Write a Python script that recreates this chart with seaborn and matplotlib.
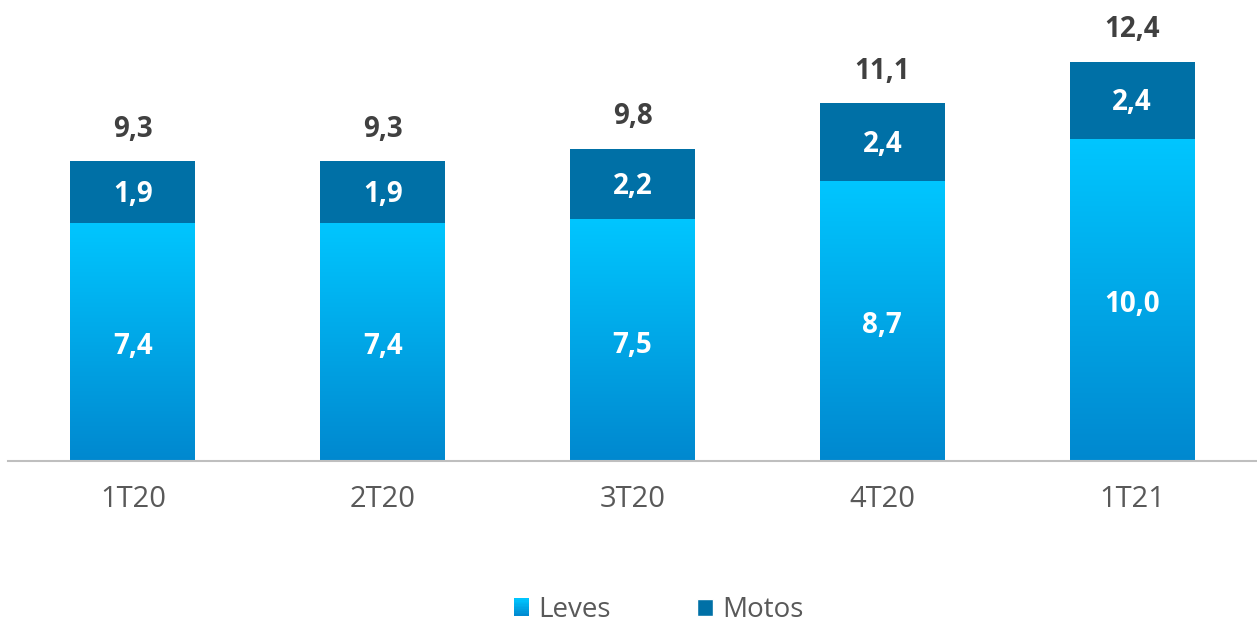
import numpy as np
import pandas as pd
import seaborn as sns
import matplotlib.pyplot as plt
from matplotlib.colors import LinearSegmentedColormap
from matplotlib.patches import Rectangle, Patch
from matplotlib.legend_handler import HandlerBase

# dados (milhões)
periods = ['1T20', '2T20', '3T20', '4T20', '1T21']
leves = [7.4, 7.4, 7.5, 8.7, 10.0]
motos = [1.9, 1.9, 2.2, 2.4, 2.4]
totals = [9.3, 9.3, 9.8, 11.1, 12.4]

c_motos = '#0070A6'
c_leves_top = '#00C6FF'
c_leves_bot = '#0088CF'
cmap = LinearSegmentedColormap.from_list('leves', [c_leves_bot, c_leves_top])


def fmt(v):
    return f'{v:.1f}'.replace('.', ',')


class GradientHandler(HandlerBase):
    # quadradinho da legenda com degradê
    def create_artists(self, legend, orig_handle, xdescent, ydescent,
                       width, height, fontsize, trans):
        steps = 12
        arts = []
        for k in range(steps):
            r = Rectangle((-xdescent, -ydescent + k * height / steps),
                          width, height / steps + 0.3,
                          facecolor=cmap((k + 0.5) / steps), edgecolor='none',
                          transform=trans)
            arts.append(r)
        return arts


df = pd.DataFrame({'periodo': periods, 'Leves': leves, 'Motos': motos})
df['topo'] = df['Leves'] + df['Motos']

sns.set_style('white')
plt.rcParams['font.family'] = ['Open Sans', 'DejaVu Sans']

fig = plt.figure(figsize=(12.57, 6.24), dpi=100)
ax = fig.add_axes([0.0064, 0.261, 0.9936, 0.723])

sns.barplot(data=df, x='periodo', y='topo', color=c_motos, width=0.5,
            saturation=1, errorbar=None, linewidth=0, ax=ax)
n = len(ax.patches)
sns.barplot(data=df, x='periodo', y='Leves', color=c_leves_top, width=0.5,
            saturation=1, errorbar=None, linewidth=0, ax=ax)

grad = np.linspace(0, 1, 256).reshape(-1, 1)
for p in ax.patches[n:]:
    x0, y0 = p.get_x(), p.get_y()
    w, h = p.get_width(), p.get_height()
    im = ax.imshow(grad, cmap=cmap, extent=[x0, x0 + w, y0, y0 + h],
                   aspect='auto', origin='lower', zorder=p.get_zorder() + 0.1)
    im.set_clip_path(p)

for i in range(len(periods)):
    ax.text(i, leves[i] / 2 - 0.15, fmt(leves[i]), ha='center', va='center',
            color='white', fontsize=20, fontweight='bold', zorder=5)
    ax.text(i, leves[i] + motos[i] / 2 - 0.08, fmt(motos[i]), ha='center', va='center',
            color='white', fontsize=20, fontweight='bold', zorder=5)
    ax.text(i, leves[i] + motos[i] + 0.98, fmt(totals[i]), ha='center', va='center',
            color='#404040', fontsize=20, fontweight='bold', zorder=5)

ax.set_xlim(-0.5, 4.5)
ax.set_ylim(0, 14)
ax.set_xlabel('')
ax.set_ylabel('')
ax.set_yticks([])
for s in ['top', 'right', 'left']:
    ax.spines[s].set_visible(False)
ax.spines['bottom'].set_color('#BFBFBF')
ax.spines['bottom'].set_linewidth(1.5)
ax.tick_params(axis='x', length=0, pad=17, labelsize=21, labelcolor='#595959')

handles = [Patch(label='Leves'), Patch(facecolor=c_motos, label='Motos')]
fig.legend(handles=handles, loc='center', bbox_to_anchor=(0.524, 1 - 610 / 624),
           ncol=2, frameon=False, fontsize=20, labelcolor='#595959',
           handlelength=0.55, handleheight=0.55, handletextpad=0.35,
           columnspacing=3.1, borderpad=0.2,
           handler_map={handles[0]: GradientHandler()})

fig.savefig('out.png', dpi=100)
